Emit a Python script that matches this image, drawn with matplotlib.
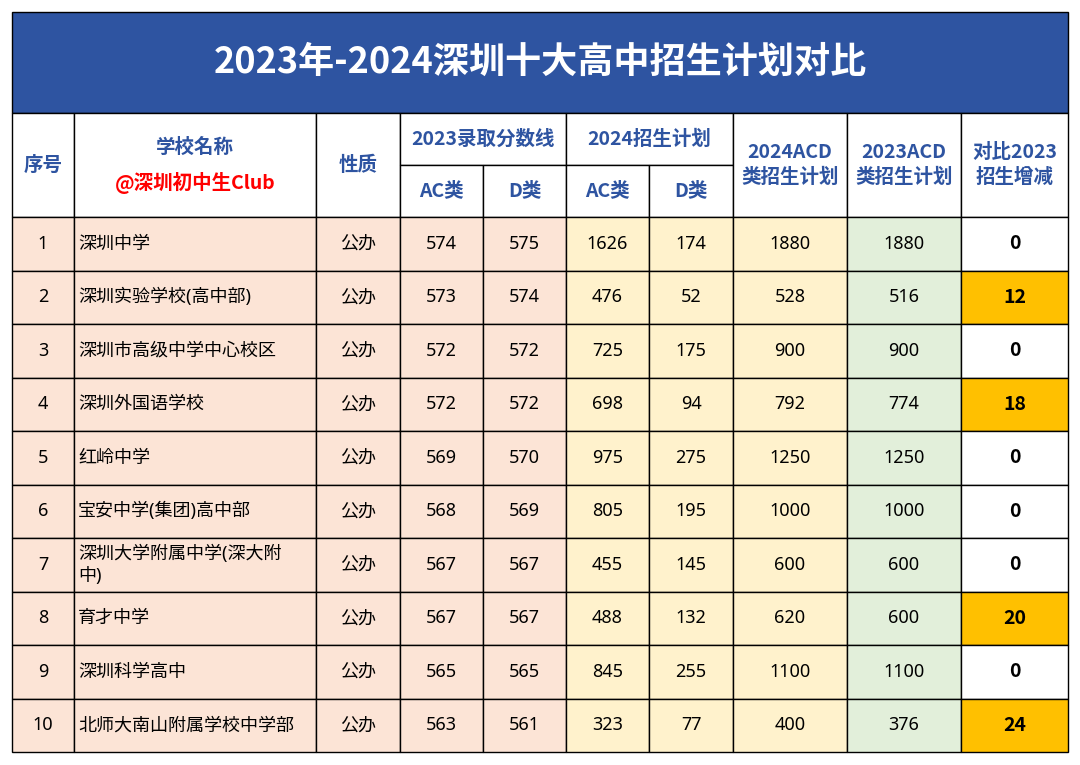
import matplotlib
matplotlib.use("Agg")
import matplotlib.pyplot as plt
from matplotlib.patches import Rectangle

# regular text: Latin from Noto Sans, Chinese falls back to CJK face
# bold text: CJK face throughout (it ships a bold weight)
FAM_REG = ["Noto Sans", "Noto Sans CJK SC", "Noto Sans CJK JP", "DejaVu Sans"]
FAM_BOLD = ["Noto Sans CJK SC", "Noto Sans CJK JP", "DejaVu Sans"]

title = "2023年-2024深圳十大高中招生计划对比"
idx = ["1", "2", "3", "4", "5", "6", "7", "8", "9", "10"]
schools = ["深圳中学", "深圳实验学校(高中部)", "深圳市高级中学中心校区", "深圳外国语学校",
           "红岭中学", "宝安中学(集团)高中部", "深圳大学附属中学(深大附\n中)", "育才中学",
           "深圳科学高中", "北师大南山附属学校中学部"]
kind = ["公办"] * 10
score_ac_2023 = [574, 573, 572, 572, 569, 568, 567, 567, 565, 563]
score_d_2023 = [575, 574, 572, 572, 570, 569, 567, 567, 565, 561]
plan_ac_2024 = [1626, 476, 725, 698, 975, 805, 455, 488, 845, 323]
plan_d_2024 = [174, 52, 175, 94, 275, 195, 145, 132, 255, 77]
acd_2024 = [1880, 528, 900, 792, 1250, 1000, 600, 620, 1100, 400]
acd_2023 = [1880, 516, 900, 774, 1250, 1000, 600, 600, 1100, 376]
diff = [0, 12, 0, 18, 0, 0, 0, 20, 0, 24]

BLUE = "#2E54A1"
PEACH = "#FCE4D6"
YELLOW = "#FFF2CC"
GREEN = "#E2EFDA"
ORANGE = "#FFC000"

xs = [12, 74, 316, 400, 483, 566, 649, 733, 847, 961, 1068]
y_title = (12, 113)
y_h1, y_h2, y_h3 = 113, 165, 217
row_h = (752 - 217) / 10

fig = plt.figure(figsize=(10.8, 7.65), dpi=100)
ax = fig.add_axes([0, 0, 1, 1])
ax.set_xlim(0, 1080)
ax.set_ylim(765, 0)
ax.axis("off")


def put(x, y, text, color="black", bold=False, size=13, ha="center", ls=1.3):
    ax.text(x, y, text, ha=ha, va="center", color=color, fontsize=size,
            fontweight="bold" if bold else "normal", linespacing=ls,
            fontfamily=FAM_BOLD if bold else FAM_REG)


def cell(x0, x1, y0, y1, fc="white", text="", ha="center", **kw):
    ax.add_patch(Rectangle((x0, y0), x1 - x0, y1 - y0, facecolor=fc, edgecolor="black", lw=1))
    if text != "":
        tx = (x0 + x1) / 2 if ha == "center" else x0 + 4
        put(tx, (y0 + y1) / 2, text, ha=ha, **kw)


# title band
ax.add_patch(Rectangle((xs[0], y_title[0]), xs[-1] - xs[0], y_title[1] - y_title[0],
                       facecolor=BLUE, edgecolor="black", lw=1))
put((xs[0] + xs[-1]) / 2, 62, title, color="white", size=26, bold=True)

# header
hb = dict(color=BLUE, bold=True, size=14)
cell(xs[0], xs[1], y_h1, y_h3, text="序号", **hb)
cell(xs[1], xs[2], y_h1, y_h3)
put((xs[1] + xs[2]) / 2, 147, "学校名称", **hb)
put((xs[1] + xs[2]) / 2, 183, "@深圳初中生Club", color="#FF0000", bold=True, size=14)
cell(xs[2], xs[3], y_h1, y_h3, text="性质", **hb)
cell(xs[3], xs[5], y_h1, y_h2, text="2023录取分数线", **hb)
cell(xs[5], xs[7], y_h1, y_h2, text="2024招生计划", **hb)
for i, t in zip([3, 4, 5, 6], ["AC类", "D类", "AC类", "D类"]):
    cell(xs[i], xs[i + 1], y_h2, y_h3, text=t, **hb)
cell(xs[7], xs[8], y_h1, y_h3, text="2024ACD\n类招生计划", ls=1.4, **hb)
cell(xs[8], xs[9], y_h1, y_h3, text="2023ACD\n类招生计划", ls=1.4, **hb)
cell(xs[9], xs[10], y_h1, y_h3, text="对比2023\n招生增减", ls=1.4, **hb)

# data rows
for r in range(10):
    y0 = y_h3 + r * row_h
    y1 = y0 + row_h
    cols = [
        (idx[r], PEACH, "center"),
        (schools[r], PEACH, "left"),
        (kind[r], PEACH, "center"),
        (str(score_ac_2023[r]), PEACH, "center"),
        (str(score_d_2023[r]), PEACH, "center"),
        (str(plan_ac_2024[r]), YELLOW, "center"),
        (str(plan_d_2024[r]), YELLOW, "center"),
        (str(acd_2024[r]), YELLOW, "center"),
        (str(acd_2023[r]), GREEN, "center"),
    ]
    for c, (t, fc, ha) in enumerate(cols):
        cell(xs[c], xs[c + 1], y0, y1, fc=fc, text=t, ha=ha)
    fc = ORANGE if diff[r] > 0 else "white"
    cell(xs[9], xs[10], y0, y1, fc=fc, text=str(diff[r]), bold=True, size=14)

fig.savefig("out.png", dpi=100, facecolor="white")
